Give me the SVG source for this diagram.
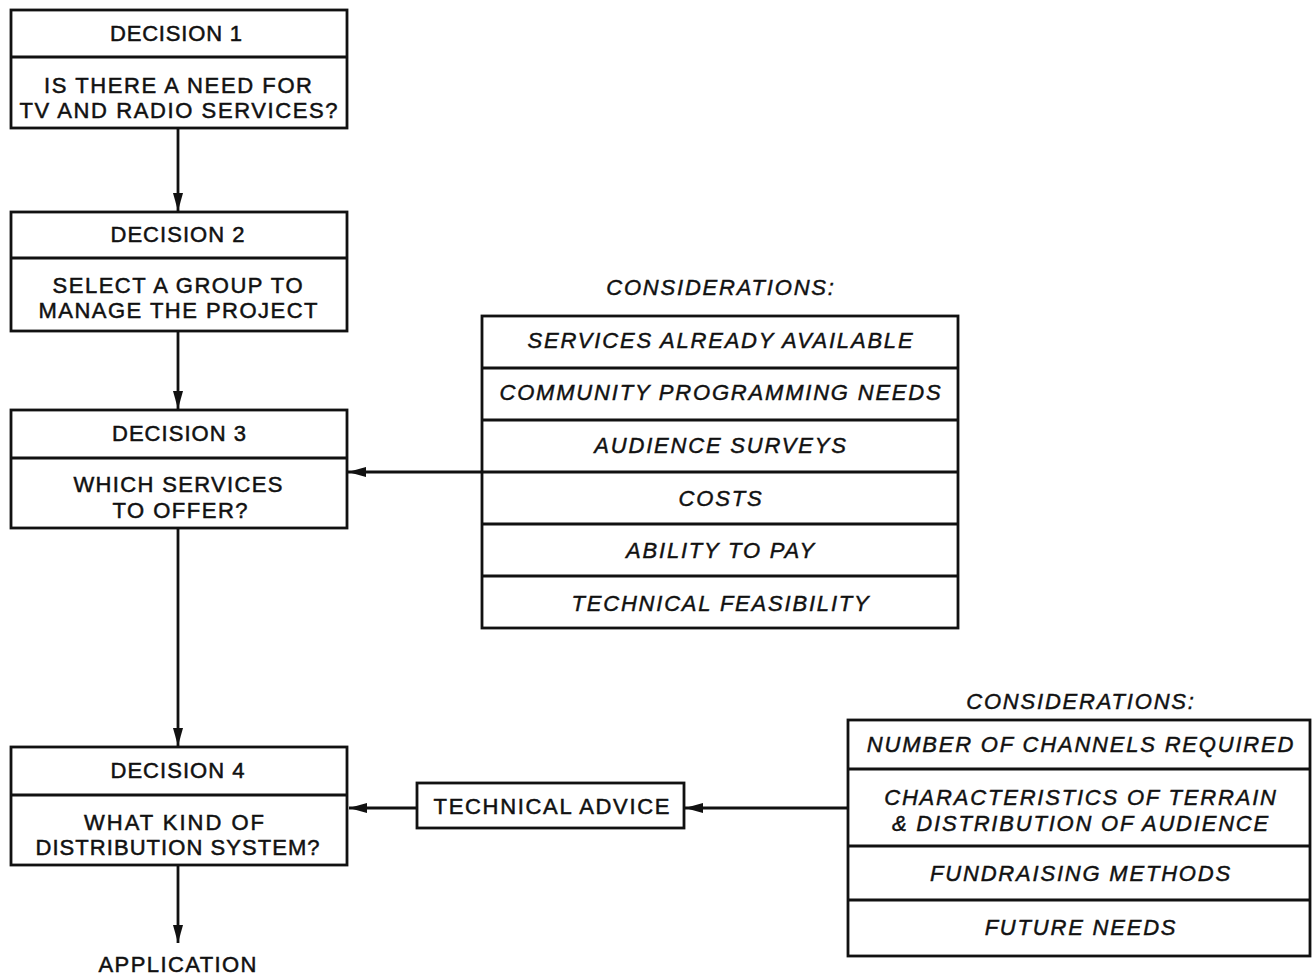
<svg xmlns="http://www.w3.org/2000/svg" width="1315" height="977" viewBox="0 0 1315 977">
<style>
.box{fill:#fff;stroke:#111;stroke-width:2.8}
.div{stroke:#111;stroke-width:2.8}
.t{font-family:"Liberation Sans",Arial,sans-serif;font-size:22px;fill:#111;stroke:#111;stroke-width:0.5;text-anchor:middle;dominant-baseline:central}
.i{font-family:"Liberation Sans",Arial,sans-serif;font-size:22px;font-style:italic;letter-spacing:1.8px;fill:#111;stroke:#111;stroke-width:0.45;text-anchor:middle;dominant-baseline:central}
.c{stroke:#111;stroke-width:2.8;fill:none;marker-end:url(#ah)}
</style>
<defs>
<marker id="ah" markerUnits="userSpaceOnUse" markerWidth="20" markerHeight="12" refX="18" refY="6" orient="auto">
<path d="M0,1 L18,6 L0,11 z" fill="#111"/>
</marker>
</defs>
<rect width="1315" height="977" fill="#fff"/>
<g id="connectors">
<line class="c" x1="178" y1="128" x2="178" y2="211"/>
<line class="c" x1="178" y1="332" x2="178" y2="409"/>
<line class="c" x1="178" y1="528" x2="178" y2="746"/>
<line class="c" x1="178" y1="865" x2="178" y2="943"/>
<line class="c" x1="482" y1="472" x2="348" y2="472"/>
<line class="c" x1="417" y1="808" x2="349" y2="808"/>
<line class="c" x1="848" y1="808" x2="685" y2="808"/>
</g>
<g id="decision1">
<rect class="box" x="11" y="10" width="336" height="118"/>
<line class="div" x1="11" y1="57" x2="347" y2="57"/>
<text class="t" x="176" y="33" textLength="132" lengthAdjust="spacing">DECISION 1</text>
<text class="t" x="178" y="85" textLength="268" lengthAdjust="spacing">IS THERE A NEED FOR</text>
<text class="t" x="178.5" y="110.5" textLength="318" lengthAdjust="spacing">TV AND RADIO SERVICES?</text>
</g>
<g id="decision2">
<rect class="box" x="11" y="212" width="336" height="119"/>
<line class="div" x1="11" y1="258" x2="347" y2="258"/>
<text class="t" x="177.5" y="234" textLength="134" lengthAdjust="spacing">DECISION 2</text>
<text class="t" x="177.5" y="285" textLength="250" lengthAdjust="spacing">SELECT A GROUP TO</text>
<text class="t" x="178" y="310" textLength="279" lengthAdjust="spacing">MANAGE THE PROJECT</text>
</g>
<g id="decision3">
<rect class="box" x="11" y="410" width="336" height="118"/>
<line class="div" x1="11" y1="458" x2="347" y2="458"/>
<text class="t" x="179" y="433" textLength="134" lengthAdjust="spacing">DECISION 3</text>
<text class="t" x="178" y="484" textLength="209" lengthAdjust="spacing">WHICH SERVICES</text>
<text class="t" x="180" y="510" textLength="135" lengthAdjust="spacing">TO OFFER?</text>
</g>
<g id="decision4">
<rect class="box" x="11" y="747" width="336" height="118"/>
<line class="div" x1="11" y1="795" x2="347" y2="795"/>
<text class="t" x="177.5" y="770" textLength="134" lengthAdjust="spacing">DECISION 4</text>
<text class="t" x="174" y="822" textLength="180" lengthAdjust="spacing">WHAT KIND OF</text>
<text class="t" x="177.5" y="847" textLength="284" lengthAdjust="spacing">DISTRIBUTION SYSTEM?</text>
</g>
<g id="application">
<text class="t" x="177.5" y="964" textLength="158" lengthAdjust="spacing">APPLICATION</text>
</g>
<g id="technical-advice">
<rect class="box" x="417" y="783" width="267" height="45"/>
<text class="t" x="551.5" y="806" textLength="236" lengthAdjust="spacing">TECHNICAL ADVICE</text>
</g>
<g id="considerations1">
<text class="i" x="721" y="287">CONSIDERATIONS:</text>
<rect class="box" x="482" y="316" width="476" height="312"/>
<line class="div" x1="482" y1="368" x2="958" y2="368"/>
<line class="div" x1="482" y1="420" x2="958" y2="420"/>
<line class="div" x1="482" y1="472" x2="958" y2="472"/>
<line class="div" x1="482" y1="524" x2="958" y2="524"/>
<line class="div" x1="482" y1="576" x2="958" y2="576"/>
<text class="i" x="721" y="340">SERVICES ALREADY AVAILABLE</text>
<text class="i" x="721" y="392">COMMUNITY PROGRAMMING NEEDS</text>
<text class="i" x="721" y="445">AUDIENCE SURVEYS</text>
<text class="i" x="721" y="498">COSTS</text>
<text class="i" x="721" y="550">ABILITY TO PAY</text>
<text class="i" x="721" y="603">TECHNICAL FEASIBILITY</text>
</g>
<g id="considerations2">
<text class="i" x="1081" y="701">CONSIDERATIONS:</text>
<rect class="box" x="848" y="720" width="462" height="236"/>
<line class="div" x1="848" y1="769" x2="1310" y2="769"/>
<line class="div" x1="848" y1="846" x2="1310" y2="846"/>
<line class="div" x1="848" y1="900" x2="1310" y2="900"/>
<text class="i" x="1081" y="744">NUMBER OF CHANNELS REQUIRED</text>
<text class="i" x="1081" y="797">CHARACTERISTICS OF TERRAIN</text>
<text class="i" x="1081" y="823">&amp; DISTRIBUTION OF AUDIENCE</text>
<text class="i" x="1081" y="873">FUNDRAISING METHODS</text>
<text class="i" x="1081" y="927">FUTURE NEEDS</text>
</g>
</svg>
